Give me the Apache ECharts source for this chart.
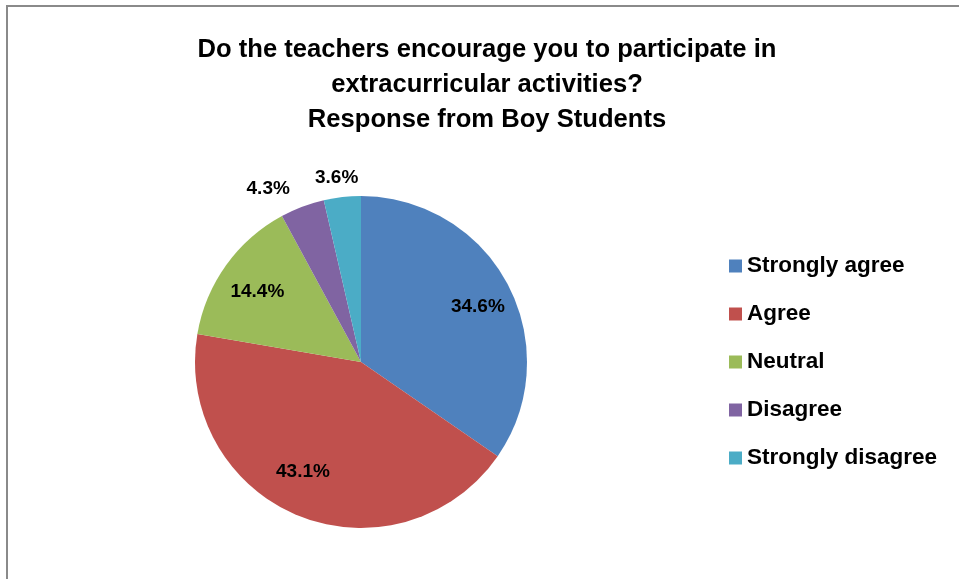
<!DOCTYPE html>
<html>
<head>
<meta charset="utf-8">
<script src="https://cdn.jsdelivr.net/npm/echarts@6/dist/echarts.min.js"></script>
<style>
html,body{margin:0;padding:0;background:#fff;}
#chart{width:959px;height:579px;}
</style>
</head>
<body>
<div id="chart"></div>
<script>
var titleText = 'Do the teachers encourage you to participate in\nextracurricular activities?\nResponse from Boy Students';
var categories = ['Strongly agree', 'Agree', 'Neutral', 'Disagree', 'Strongly disagree'];
var percents = [34.6, 43.1, 14.4, 4.3, 3.6];
var colors = ['#4F81BD', '#C0504D', '#9BBB59', '#8064A2', '#4BACC6'];
var insideLabelIdx = [0, 1, 2];
var outsideLabelIdx = [3, 4];

var FONT = '"Liberation Sans", Arial, sans-serif';
var CENTER = [361, 362];
var R = 166;

function pct(p) { return p.value.toFixed(1) + '%'; }

var mainData = categories.map(function (c, i) {
  return { name: c, value: percents[i], itemStyle: { color: colors[i] } };
});
function labelData(showIdx, extra) {
  return categories.map(function (c, i) {
    var d = { name: c, value: percents[i], label: { show: showIdx.indexOf(i) >= 0 } };
    if (extra && extra[i]) { for (var k in extra[i]) d.label[k] = extra[i][k]; }
    return d;
  });
}
var labelCommon = {
  position: 'inside', color: '#000', fontFamily: FONT, fontWeight: 'bold', fontSize: 19,
  offset: [0, 4],
  formatter: pct
};
var overlayCommon = {
  type: 'pie', center: CENTER, startAngle: 90, clockwise: true, silent: true,
  avoidLabelOverlap: false, minShowLabelAngle: 0, padAngle: 0,
  itemStyle: { color: 'rgba(0,0,0,0)', borderWidth: 0 },
  emphasis: { disabled: true }, tooltip: { show: false },
  labelLine: { show: false }, animation: false
};

var option = {
  backgroundColor: '#ffffff',
  animation: false,
  title: {
    text: titleText,
    left: 487, top: 32, textAlign: 'center', padding: 0,
    textStyle: { fontFamily: FONT, fontWeight: 'bold', fontSize: 25.6, lineHeight: 35, color: '#000' }
  },
  legend: {
    orient: 'vertical', left: 729, top: 254, padding: 0,
    itemWidth: 13, itemHeight: 13, itemGap: 24, itemTextGap: 8,
    icon: 'rect', selectedMode: false,
    data: categories,
    textStyle: { fontFamily: FONT, fontWeight: 'bold', fontSize: 22.5, lineHeight: 24, color: '#000' }
  },
  graphic: [
    { type: 'rect', shape: { x: 6, y: 5, width: 953, height: 2 }, style: { fill: '#8a8a8a' }, silent: true },
    { type: 'rect', shape: { x: 6, y: 5, width: 2, height: 574 }, style: { fill: '#8a8a8a' }, silent: true }
  ],
  series: [
    {
      type: 'pie', name: 'main', center: CENTER, radius: [0, R], startAngle: 90, clockwise: true,
      padAngle: 0, silent: true, animation: false,
      itemStyle: { borderWidth: 0 },
      label: { show: false }, labelLine: { show: false },
      emphasis: { disabled: true },
      data: mainData
    },
    Object.assign({}, overlayCommon, {
      name: 'inner labels', radius: [R * 0.5, R],
      label: labelCommon,
      data: labelData(insideLabelIdx, { 0: { offset: [4, 4] }, 1: { offset: [-10, -8] } })
    }),
    Object.assign({}, overlayCommon, {
      name: 'outer labels', radius: [R, R + 40],
      label: labelCommon,
      data: labelData(outsideLabelIdx, { 3: { offset: [-26, 4] }, 4: { offset: [-3, 4] } })
    })
  ]
};

var chart = echarts.init(document.getElementById('chart'), null, { renderer: 'canvas' });
chart.setOption(option);
</script>
</body>
</html>
